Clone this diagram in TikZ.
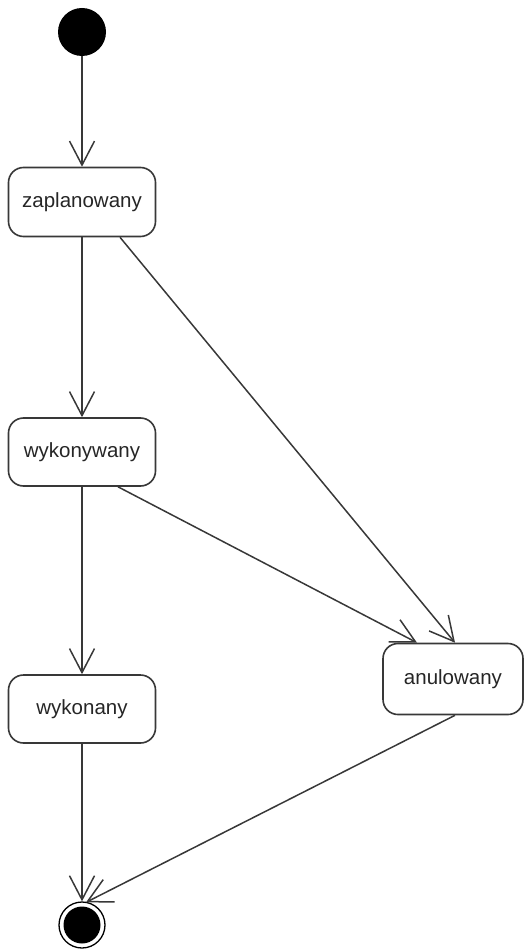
\documentclass[tikz,border=0pt]{standalone}
\usepackage{fontspec}
\setmainfont{Liberation Sans}
\usetikzlibrary{arrows.meta,calc}
\definecolor{linec}{gray}{0.22}
\tikzset{
  state/.style={draw=linec, line width=1.6pt, rounded corners=15pt, fill=white,
    minimum height=69pt, inner sep=0pt, text=black!85,
    font=\fontsize{20.5}{24}\selectfont},
  trans/.style={draw=linec, line width=1.5pt,
    -{Straight Barb[length=24pt,width=25pt,line width=1.5pt]}},
}
\begin{document}
\begin{tikzpicture}[x=1pt,y=-1pt]
\useasboundingbox (0,0) rectangle (528,949);
\node[circle, fill=black, minimum size=48pt, inner sep=0pt] (init) at (82,32) {};
\node[state, minimum width=147pt] (zap) at (82,202) {zaplanowany};
\node[state, minimum width=147pt, minimum height=68pt] (wyk) at (82,452) {wykonywany};
\node[state, minimum width=147pt, minimum height=68pt] (wyn) at (82,709) {wykonany};
\node[state, minimum width=140pt, minimum height=71pt] (anu) at (453,679) {anulowany};
\node[circle, draw=black, line width=1.3pt, minimum size=46pt, inner sep=0pt] (fin) at (82,925) {};
\node[circle, fill=black, minimum size=37pt, inner sep=0pt] (finin) at (fin.center) {};
\draw[trans] (init.south) -- (zap.north);
\draw[trans] (zap.south) -- (wyk.north);
\draw[trans] (wyk.south) -- (wyn.north);
\draw[trans] (wyn.south) -- (fin.north);
\draw[trans] ($(zap.south)+(38,0)$) -- ($(anu.north)+(2,0)$);
\draw[trans] ($(wyk.south)+(36,0)$) -- ($(anu.north)+(-36,0)$);
\coordinate (anuout) at ($(anu.south)+(2,0)$);
\coordinate (finin2) at ($(fin.north)+(4,1)$);
\draw[trans] (anuout) -- (finin2);
\end{tikzpicture}
\end{document}
